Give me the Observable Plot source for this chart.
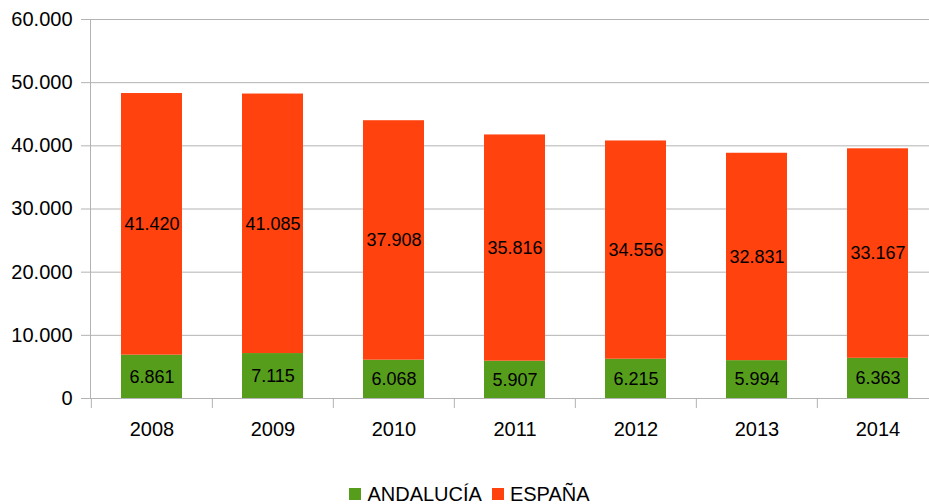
<!DOCTYPE html>
<html>
<head>
<meta charset="utf-8">
<script src="https://cdn.jsdelivr.net/npm/d3@7"></script>
<script src="https://cdn.jsdelivr.net/npm/@observablehq/plot@0.6"></script>
<style>
  html, body { margin: 0; padding: 0; background: #fff; overflow: hidden; }
  body { width: 929px; height: 504px; font-family: "Liberation Sans", Arial, sans-serif; }
  #legend { height: 20px; line-height: 20px; font-size: 20px; color: #000; display: flex; justify-content: center; align-items: center; padding-left: 10px; }
  .item { display: flex; align-items: center; margin: 0 5px; }
  .sw { width: 12px; height: 12px; margin-right: 6px; display: inline-block; }
</style>
</head>
<body>
<div id="chart"></div>
<div id="legend"></div>
<script>
const years = ["2008", "2009", "2010", "2011", "2012", "2013", "2014"];
const andalucia = [6861, 7115, 6068, 5907, 6215, 5994, 6363];
const espana = [41420, 41085, 37908, 35816, 34556, 32831, 33167];
const series = ["ANDALUCÍA", "ESPAÑA"];
const colors = ["#579d1c", "#ff420e"];
const yTicks = [0, 10000, 20000, 30000, 40000, 50000, 60000];

const seriesValues = [andalucia, espana];
const data = series.flatMap((s, si) => years.map((year, i) => ({ year, serie: s, value: seriesValues[si][i] })));

const fmt = d => d3.format(",")(d).replace(/,/g, ".");

const xRange = [90, 939];
const step = (xRange[1] - xRange[0]) / years.length;

const chart = Plot.plot({
  width: 929,
  height: 484,
  marginLeft: 90,
  marginRight: 0,
  marginTop: 19,
  marginBottom: 86,
  style: { fontFamily: "'Liberation Sans', Arial, sans-serif", fontSize: "20px", color: "#000", background: "#fff" },
  x: { domain: years, range: xRange, paddingInner: 0.5, paddingOuter: 0.25, label: null },
  y: { domain: [0, 60000], label: null },
  color: { domain: series, range: colors },
  marks: [
    Plot.gridY(yTicks, { stroke: "#b3b3b3", strokeOpacity: 1 }),
    Plot.barY(data, { x: "year", y: "value", fill: "serie" }),
    Plot.text(data, Plot.stackY({ x: "year", y: "value", z: "serie", text: d => fmt(d.value), fontSize: 18, fill: "#000" })),
    Plot.axisY(yTicks, { tickSize: 9, tickPadding: 9, tickFormat: fmt, stroke: "#b3b3b3", fill: "#000", fontSize: 20, label: null }),
    Plot.frame({ anchor: "left", stroke: "#b3b3b3" }),
    Plot.axisX({ tickSize: 0, tickPadding: 23, fontSize: 20, fill: "#000", label: null }),
    Plot.axisX({ tickSize: 10, tickFormat: () => "", dx: -step / 2, stroke: "#b3b3b3", label: null })
  ]
});
document.getElementById("chart").appendChild(chart);

const legend = document.getElementById("legend");
series.forEach((s, i) => {
  const item = document.createElement("span");
  item.className = "item";
  const sw = document.createElement("span");
  sw.className = "sw";
  sw.style.background = colors[i];
  item.appendChild(sw);
  item.appendChild(document.createTextNode(s));
  legend.appendChild(item);
});
</script>
</body>
</html>
